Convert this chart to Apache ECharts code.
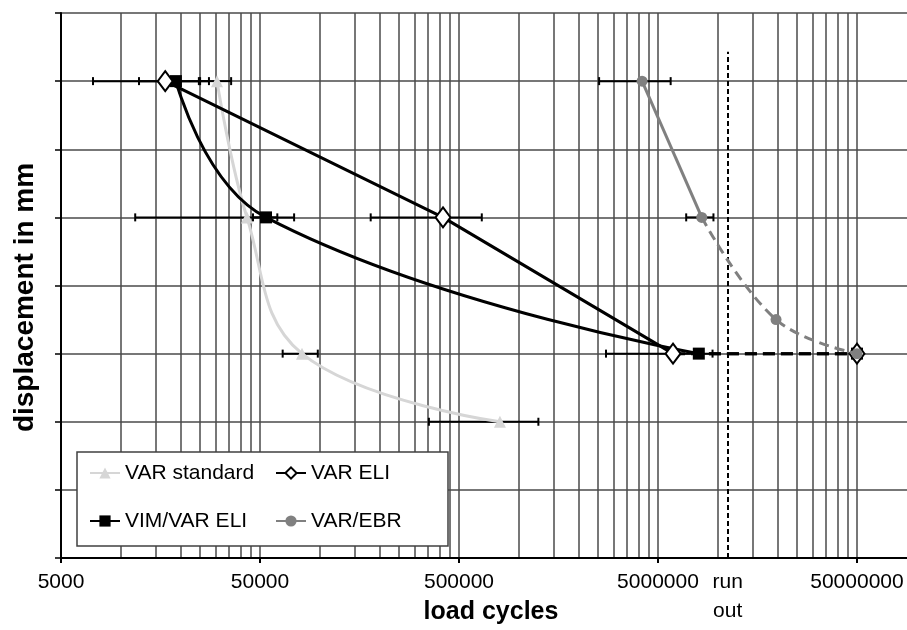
<!DOCTYPE html>
<html><head><meta charset="utf-8">
<script src="https://cdn.jsdelivr.net/npm/echarts@6/dist/echarts.min.js"></script>
<style>html,body{margin:0;padding:0;background:#fff}#c{width:907px;height:630px}</style>
</head><body><div id="c"></div>
<script>
// ---- axis / tick data ----
const decadeStarts = [5000, 50000, 500000, 5000000, 50000000];
const gridMultipliers = [1, 2, 3, 4, 5, 6, 7, 8, 9];
const majorTickLabels = ['5000', '50000', '500000', '5000000', '50000000'];
const xMin = 5000;
const xMax = 89200000;
const runOutValue = 11200000;
const runOutLabel = 'run\nout';
const runOutTop = 7.43;

// ---- series data (load cycles, displacement level) ----
const varStdX = [30400, 43000, 81300, 803000];
const varStdY = [7, 5, 3, 2];
const varStdLow = [25000, 11800, 65000, 353000];
const varStdHigh = [35800, 74200, 97600, 1253000];

const varEliX = [16700, 415600, 5950000];
const varEliY = [7, 5, 3];
const varEliLow = [7240, 180000, 2740000];
const varEliHigh = [27700, 651000, 9400000];
const varEliRunX = [5950000, 50000000];
const varEliRunY = [3, 3];

const vimX = [18900, 53600, 8020000];
const vimY = [7, 5, 3];
const vimLow = [12330, 46100];
const vimHigh = [24650, 61100];
const vimRunX = [8020000, 50000000];
const vimRunY = [3, 3];

const ebrX = [4160000, 8300000];
const ebrY = [7, 5];
const ebrLow = [2530000, 6930000];
const ebrHigh = [5790000, 9500000];
const ebrRunX = [8300000, 19600000, 50000000];
const ebrRunY = [5, 3.5, 3];

const FONT = "'Liberation Sans', Arial, sans-serif";

const gridValues = [];
decadeStarts.forEach(d => gridMultipliers.forEach(k => { if (d * k <= xMax) gridValues.push(d * k); }));

const pts = (xs, ys) => xs.map((x, i) => [x, ys[i]]);
const runPts = (xs, ys) => xs.map((x, i) => i === 0 ? { value: [x, ys[i]], symbol: 'none' } : [x, ys[i]]);
const errPts = (lo, hi, ys) => lo.map((l, i) => [l, hi[i], ys[i]]);
const errorData = [].concat(
  errPts(varStdLow, varStdHigh, varStdY),
  errPts(varEliLow, varEliHigh, varEliY),
  errPts(vimLow, vimHigh, vimY),
  errPts(ebrLow, ebrHigh, ebrY)
);

function labelFor(v) {
  if (Math.abs(v - runOutValue) / runOutValue < 0.01) return runOutLabel;
  for (let i = 0; i < decadeStarts.length; i++) {
    if (Math.abs(v - decadeStarts[i]) / decadeStarts[i] < 0.01) return majorTickLabels[i];
  }
  return '';
}

const chart = echarts.init(document.getElementById('c'), null, { renderer: 'canvas' });
const gridColor = '#4a4a4a';
const dashPattern = [12, 6];

const option = {
  backgroundColor: '#fff',
  animation: false,
  grid: { left: 61, right: 0, top: 13, bottom: 70, containLabel: false },
  legend: {
    left: 77, top: 452, width: 360, orient: 'horizontal',
    data: ['VAR standard', 'VAR ELI', 'VIM/VAR ELI', 'VAR/EBR'],
    itemWidth: 30, itemHeight: 14, itemGap: 14,
    padding: [4, 1, 8, 12],
    backgroundColor: '#fff', borderColor: '#404040', borderWidth: 1.5, borderRadius: 0,
    textStyle: { fontSize: 21, color: '#000', fontFamily: FONT, lineHeight: 34, width: 136 }
  },
  xAxis: [
    {
      type: 'log', logBase: 10, min: xMin, max: xMax,
      axisLine: { show: true, lineStyle: { color: '#000', width: 2 } },
      axisTick: { show: false, customValues: gridValues },
      axisLabel: { show: false },
      splitLine: { show: true, lineStyle: { color: gridColor, width: 1.5 } },
      name: 'load cycles', nameLocation: 'middle', nameGap: 42,
      nameTextStyle: { fontSize: 25, fontWeight: 'bold', color: '#000', fontFamily: FONT, padding: [0, 0, 0, 14] }
    },
    {
      type: 'log', logBase: 10, min: xMin, max: xMax, position: 'bottom',
      axisLine: { show: false },
      axisTick: { show: true, customValues: decadeStarts, inside: false, length: 5, lineStyle: { color: '#000', width: 2 } },
      axisLabel: {
        show: true, customValues: decadeStarts.concat([runOutValue]), hideOverlap: false,
        formatter: labelFor, fontSize: 21, color: '#000', fontFamily: FONT, lineHeight: 29, margin: 10
      },
      splitLine: { show: false }
    }
  ],
  yAxis: {
    type: 'value', min: 0, max: 8, interval: 1,
    axisLine: { show: true, lineStyle: { color: '#000', width: 2 } },
    axisTick: { show: true, inside: false, length: 6, lineStyle: { color: '#000', width: 1.5 } },
    axisLabel: { show: false },
    splitLine: { show: true, lineStyle: { color: gridColor, width: 1.5 } },
    name: 'displacement in mm', nameLocation: 'middle', nameGap: 22, nameRotate: 90,
    nameTextStyle: { fontSize: 28, fontWeight: 'bold', color: '#000', fontFamily: FONT, padding: [0, 24, 0, 0] }
  },
  series: [
    {
      type: 'custom', name: 'errors', xAxisIndex: 0, z: 1, silent: true,
      data: errorData,
      encode: { x: [0, 1], y: 2 },
      renderItem: function (params, api) {
        const y = api.value(2);
        const a = api.coord([api.value(0), y]);
        const b = api.coord([api.value(1), y]);
        const st = { stroke: '#000', lineWidth: 2 };
        const h = 4;
        return {
          type: 'group',
          children: [
            { type: 'line', shape: { x1: a[0], y1: a[1], x2: b[0], y2: b[1] }, style: st },
            { type: 'line', shape: { x1: a[0], y1: a[1] - h, x2: a[0], y2: a[1] + h }, style: st },
            { type: 'line', shape: { x1: b[0], y1: b[1] - h, x2: b[0], y2: b[1] + h }, style: st }
          ]
        };
      }
    },
    {
      type: 'line', name: 'VAR standard', data: pts(varStdX, varStdY), smooth: 0.4, z: 3,
      symbol: 'triangle', symbolSize: 12,
      lineStyle: { color: '#d6d6d6', width: 3 }, itemStyle: { color: '#d6d6d6' }
    },
    {
      type: 'line', name: 'VIM/VAR ELI', data: pts(vimX, vimY), smooth: 0.45, z: 4,
      symbol: 'rect', symbolSize: 12,
      lineStyle: { color: '#000', width: 3 }, itemStyle: { color: '#000' }
    },
    {
      type: 'line', name: 'VAR ELI', data: pts(varEliX, varEliY), smooth: false, z: 5,
      symbol: 'diamond', symbolSize: [15, 20],
      lineStyle: { color: '#000', width: 3 }, itemStyle: { color: '#fff', borderColor: '#000', borderWidth: 2 }
    },
    {
      type: 'line', name: 'VAR/EBR', data: pts(ebrX, ebrY), smooth: false, z: 6,
      symbol: 'circle', symbolSize: 11,
      lineStyle: { color: '#808080', width: 3 }, itemStyle: { color: '#808080' }
    },
    {
      type: 'line', name: 'VIM/VAR ELI', data: runPts(vimRunX, vimRunY), z: 4,
      symbol: 'rect', symbolSize: 12, showAllSymbol: true,
      lineStyle: { color: '#000', width: 3, type: dashPattern, dashOffset: 8 }, itemStyle: { color: '#000' },
      markLine: {
        silent: true, symbol: ['none', 'none'], label: { show: false },
        lineStyle: { color: '#000', width: 2, type: [5, 3] },
        data: [[{ coord: [runOutValue, 0] }, { coord: [runOutValue, runOutTop] }]]
      }
    },
    {
      type: 'line', name: 'VAR ELI', data: runPts(varEliRunX, varEliRunY), z: 5,
      symbol: 'diamond', symbolSize: [15, 20], showAllSymbol: true,
      lineStyle: { color: '#000', width: 3, type: dashPattern }, itemStyle: { color: '#fff', borderColor: '#000', borderWidth: 2 }
    },
    {
      type: 'line', name: 'VAR/EBR', data: runPts(ebrRunX, ebrRunY), smooth: 0.4, z: 6,
      symbol: 'circle', symbolSize: 11, showAllSymbol: true,
      lineStyle: { color: '#808080', width: 3, type: [10, 6] }, itemStyle: { color: '#808080' }
    }
  ]
};
chart.setOption(option);
</script>
</body></html>
